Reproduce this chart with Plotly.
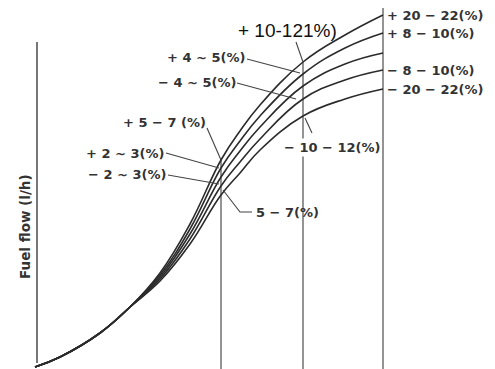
import plotly.graph_objects as go

# curve samples (x: engine load, y: fuel flow, arbitrary units)
x_pts = [35, 60, 100, 130, 160, 190, 221, 240, 260, 303, 345, 383]
outer_hi = [2, 12, 36, 62, 96, 145, 209, 238, 264, 307, 334, 354]
inner_hi = [2, 12, 36, 62, 94, 140, 201, 228, 253, 295, 321, 336]
nominal = [2, 12, 36, 62, 92, 135, 192, 218, 242, 283, 305, 316]
inner_lo = [2, 12, 36, 62, 90, 130, 183, 207, 230, 270, 289, 299]
outer_lo = [2, 12, 36, 62, 88, 125, 174, 196, 219, 253, 270, 280]

# check points (vertical lines) and how high they reach
check_x = [221, 303, 383]
check_top = [211, 307, 361]

# leader lines: (x list, y list)
leaders = [
    ([296, 303], [327, 307]),
    ([247, 300], [310, 296]),
    ([237, 296], [286, 270]),
    ([207, 221], [241, 209]),
    ([166, 219], [216, 201]),
    ([168, 219], [194, 185]),
    ([223, 240, 252], [179, 157, 157]),
    ([305, 312], [251, 236]),
]

# labels: text, x, y, anchor
labels = [
    ("+ 4 ~ 5(%)", 247, 312, "right"),
    ("− 4 ~ 5(%)", 238, 287, "right"),
    ("+ 5 − 7 (%)", 208, 247, "right"),
    ("+ 2 ~ 3(%)", 166, 216, "right"),
    ("− 2 ~ 3(%)", 168, 195, "right"),
    ("5 − 7(%)", 254, 157, "left"),
    ("− 10 − 12(%)", 282, 222, "left"),
    ("+ 20 − 22(%)", 385, 354, "left"),
    ("+ 8 − 10(%)", 385, 336, "left"),
    ("− 8 − 10(%)", 385, 299, "left"),
    ("− 20 − 22(%)", 385, 280, "left"),
]

fig = go.Figure()

for ys in [outer_hi, inner_hi, nominal, inner_lo, outer_lo]:
    fig.add_trace(go.Scatter(x=x_pts, y=ys, mode="lines",
                             line=dict(color="#2b2b2b", width=1.6,
                                       shape="spline", smoothing=1.2),
                             hoverinfo="skip", showlegend=False))

# y axis line
fig.add_shape(type="line", x0=37, x1=37, y0=6, y1=327,
              line=dict(color="#555", width=1.6))

for cx, ct in zip(check_x, check_top):
    fig.add_shape(type="line", x0=cx, x1=cx, y0=-10, y1=ct,
                  line=dict(color="#666", width=1.4), layer="below")

for lx, ly in leaders:
    fig.add_trace(go.Scatter(x=lx, y=ly, mode="lines",
                             line=dict(color="#444", width=1.1),
                             hoverinfo="skip", showlegend=False))

font_lbl = dict(family="DejaVu Sans", size=13, color="#333")
for txt, tx, ty, anc in labels:
    fig.add_annotation(x=tx, y=ty, text="<b>" + txt + "</b>", showarrow=False,
                       xanchor=anc, yanchor="middle", font=font_lbl,
                       bgcolor="white" if txt.startswith("− 10") else None)

fig.add_annotation(x=287, y=339, text="+ 10-121%)", showarrow=False,
                   xanchor="center", yanchor="middle",
                   font=dict(family="Liberation Sans, Arial", size=19, color="#111"))

fig.add_annotation(x=25, y=142, text="<b>Fuel flow (l/h)</b>", showarrow=False,
                   textangle=-90, xanchor="center", yanchor="middle",
                   font=dict(family="DejaVu Sans", size=13.5, color="#333"))

# ranges offset by the page's 8px body margin
fig.update_layout(
    width=495, height=369,
    margin=dict(l=0, r=0, t=0, b=0),
    paper_bgcolor="white", plot_bgcolor="white",
    xaxis=dict(range=[8, 503], visible=False),
    yaxis=dict(range=[-8, 361], visible=False),
)

fig.write_html("out.html")
